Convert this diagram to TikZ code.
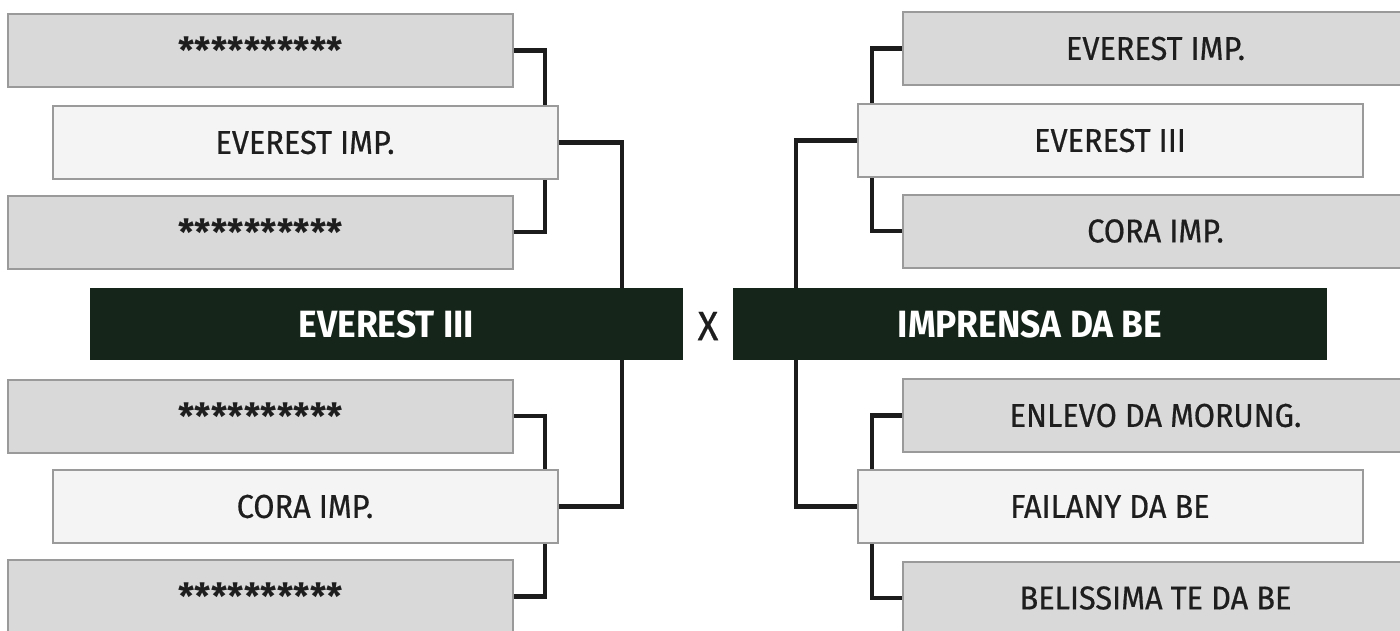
\documentclass[tikz,border=0pt]{standalone}
\usepackage{fontspec}
\setmainfont{Fira Sans}[FakeStretch=0.93]
\newfontfamily\medfont{Fira Sans}[FakeStretch=0.93, FakeBold=0.6]
\newfontfamily\starfont{Fira Sans}
\usetikzlibrary{backgrounds}
\definecolor{boxline}{HTML}{9A9A9A}
\definecolor{gfill}{HTML}{D9D9D9}
\definecolor{lfill}{HTML}{F4F4F4}
\definecolor{txt}{HTML}{1E1E1E}
\definecolor{barfill}{HTML}{15251A}
\definecolor{connc}{HTML}{1C1C1C}
\tikzset{
  box/.style={draw=boxline, line width=2pt, minimum width=505pt, minimum height=73pt, inner sep=0pt, text=txt, font=\medfont\fontsize{33}{36}\selectfont},
  gbox/.style={box, fill=gfill},
  lbox/.style={box, fill=lfill},
  bar/.style={fill=barfill, minimum width=593pt, minimum height=72pt, inner sep=0pt, text=white, font=\fontsize{38}{44}\selectfont\bfseries},
  conn/.style={line width=4.5pt, draw=connc},
}
\newcommand{\stars}{\raisebox{-11pt}{\starfont\bfseries\fontsize{36}{38}\selectfont **********}}
\begin{document}
\begin{tikzpicture}[x=1pt,y=-1pt]
\clip (0,0) rectangle (1400,630);
\useasboundingbox (0,0) rectangle (1400,630);
% left column
\node[gbox] (L1) at (260.5,50.5) {\stars};
\node[lbox] (L2) at (305,142.5) {EVEREST IMP.};
\node[gbox] (L3) at (260.5,232) {\stars};
\node[gbox] (L4) at (260.5,416) {\stars};
\node[lbox] (L5) at (305,506.5) {CORA IMP.};
\node[gbox] (L6) at (260.5,596.5) {\stars};
% right column
\node[gbox] (R1) at (1155.5,48.5) {EVEREST IMP.};
\node[lbox] (R2) at (1110,140.5) {EVEREST III};
\node[gbox] (R3) at (1155.5,231) {CORA IMP.};
\node[gbox] (R4) at (1155.5,415.5) {ENLEVO DA MORUNG.};
\node[lbox] (R5) at (1110,506.5) {FAILANY DA BE};
\node[gbox] (R6) at (1155.5,598) {BELISSIMA TE DA BE};
% finals
\node[bar] (FL) at (386.5,324) {EVEREST III};
\node[bar, minimum width=594pt] (FR) at (1030,324) {IMPRENSA DA BE};
\node[text=txt, font=\medfont\fontsize{41}{46}\selectfont] (X) at (708,326) {X};
% junction coordinates
\coordinate (jL) at (545,0);
\coordinate (jR) at (872,0);
\coordinate (cL) at (622,324);
\coordinate (cR) at (796,324);
\begin{scope}[on background layer]
\draw[conn] (L1.east) -| (L2.north -| jL);
\draw[conn] (L3.east) -| (L2.south -| jL);
\draw[conn] (L4.east) -| (L5.north -| jL);
\draw[conn] (L6.east) -| (L5.south -| jL);
\draw[conn] (L2.east) -| (cL) |- (L5.east);
\draw[conn] (R1.west) -| (R2.north -| jR);
\draw[conn] (R3.west) -| (R2.south -| jR);
\draw[conn] (R4.west) -| (R5.north -| jR);
\draw[conn] (R6.west) -| (R5.south -| jR);
\draw[conn] (R2.west) -| (cR) |- (R5.west);
\end{scope}
\end{tikzpicture}
\end{document}
